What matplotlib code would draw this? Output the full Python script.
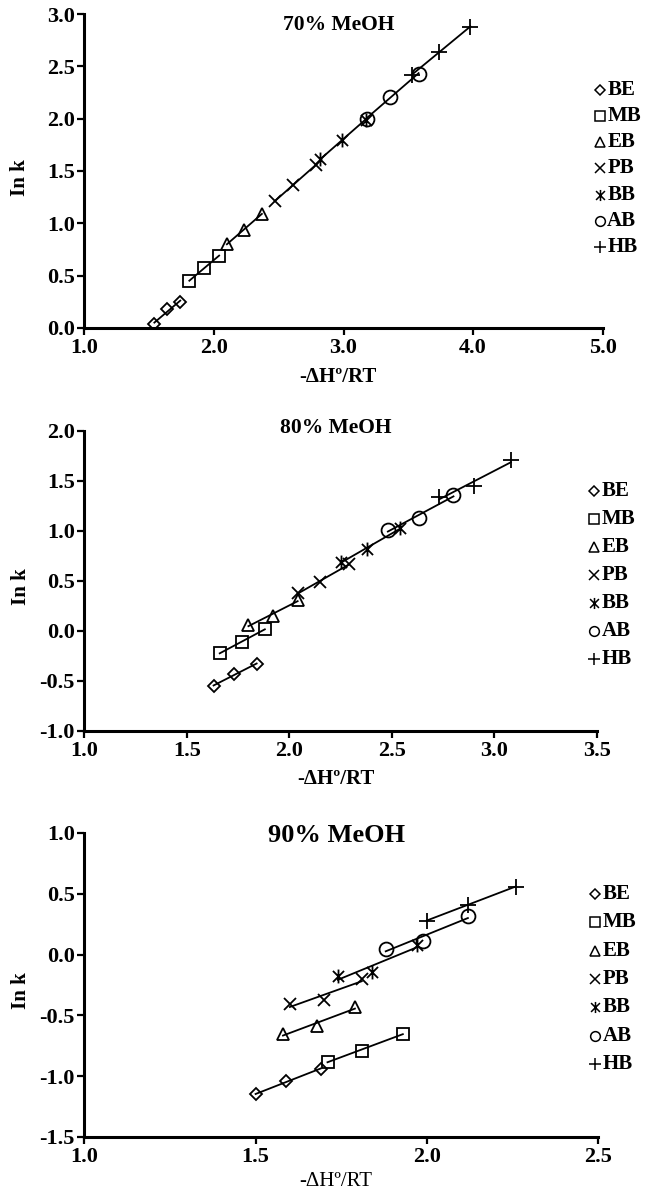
import numpy as np
import matplotlib
matplotlib.use("Agg")
import matplotlib.pyplot as plt
from matplotlib.path import Path

plt.rcParams["font.family"] = ["Liberation Serif", "DejaVu Serif"]
plt.rcParams["font.weight"] = "bold"
plt.rcParams["axes.unicode_minus"] = False

compounds = ["BE", "MB", "EB", "PB", "BB", "AB", "HB"]

# 70% MeOH: -dH/RT and ln k, one list per compound
x_70 = [[1.54, 1.64, 1.74], [1.81, 1.92, 2.04], [2.10, 2.23, 2.37],
        [2.47, 2.61, 2.79], [2.82, 2.99, 3.17], [3.18, 3.36, 3.58],
        [3.53, 3.74, 3.98]]
y_70 = [[0.04, 0.18, 0.25], [0.45, 0.57, 0.69], [0.80, 0.94, 1.09],
        [1.21, 1.37, 1.56], [1.61, 1.80, 1.99], [2.00, 2.21, 2.43],
        [2.42, 2.64, 2.88]]

# 80% MeOH
x_80 = [[1.63, 1.73, 1.84], [1.66, 1.77, 1.88], [1.80, 1.92, 2.04],
        [2.04, 2.15, 2.29], [2.25, 2.38, 2.54], [2.48, 2.63, 2.80],
        [2.73, 2.90, 3.08]]
y_80 = [[-0.55, -0.43, -0.33], [-0.22, -0.11, 0.02], [0.06, 0.15, 0.31],
        [0.38, 0.49, 0.67], [0.69, 0.82, 1.03], [1.01, 1.13, 1.36],
        [1.34, 1.45, 1.71]]

# 90% MeOH
x_90 = [[1.50, 1.59, 1.69], [1.71, 1.81, 1.93], [1.58, 1.68, 1.79],
        [1.60, 1.70, 1.81], [1.74, 1.84, 1.97], [1.88, 1.99, 2.12],
        [2.00, 2.12, 2.26]]
y_90 = [[-1.15, -1.04, -0.94], [-0.88, -0.79, -0.65], [-0.65, -0.59, -0.43],
        [-0.41, -0.37, -0.20], [-0.18, -0.14, 0.08], [0.05, 0.11, 0.32],
        [0.28, 0.41, 0.56]]

asterisk = Path([(0, -1), (0, 1), (-0.8, -0.8), (0.8, 0.8), (-0.8, 0.8), (0.8, -0.8)],
                [Path.MOVETO, Path.LINETO] * 3)
markers = ["D", "s", "^", "x", asterisk, "o", "+"]
sizes = [6, 9, 9, 9, 10, 10, 11]
leg_sizes = [5, 7, 7, 7, 8, 7, 8]


def draw_panel(ax, xs, ys, title, xticks, yticks, title_y, title_size, leg_top, leg_step,
               xlabel_y, xlabel_bold=True):
    for xv, yv, m, ms in zip(xs, ys, markers, sizes):
        xv = np.array(xv)
        yv = np.array(yv)
        # per compound linear trend line
        k, b = np.polyfit(xv, yv, 1)
        ax.plot([xv.min(), xv.max()], [k * xv.min() + b, k * xv.max() + b],
                color="black", lw=1.3, zorder=2)
        ax.plot(xv, yv, linestyle="none", marker=m, ms=ms, mfc="none",
                mec="black", mew=1.3, zorder=3)

    ax.set_xlim(xticks[0], xticks[-1])
    ax.set_ylim(yticks[0], yticks[-1])
    ax.set_xticks(xticks)
    ax.set_yticks(yticks)
    ax.set_xticklabels(["%.1f" % t for t in xticks])
    ax.set_yticklabels(["%.1f" % t for t in yticks])
    ax.tick_params(direction="out", length=5, width=1.6, labelsize=16, pad=2)
    for s in ["top", "right"]:
        ax.spines[s].set_visible(False)
    for s in ["left", "bottom"]:
        ax.spines[s].set_linewidth(2.2)

    ax.text(0.49, title_y, title, transform=ax.transAxes, ha="center", va="center",
            fontsize=title_size, fontweight="bold")
    ax.text(-0.124, 0.48, "In k", transform=ax.transAxes, rotation=90,
            ha="center", va="center", fontsize=15, fontweight="bold")
    ax.text(0.49, xlabel_y, "-\u0394H\u00ba/RT", transform=ax.transAxes,
            ha="center", va="center", fontsize=15,
            fontweight="bold" if xlabel_bold else "normal")

    # legend drawn on the right side
    for i, (name, m) in enumerate(zip(compounds, markers)):
        yy = leg_top - i * leg_step
        ax.plot([0.995], [yy], transform=ax.transAxes, marker=m, ms=leg_sizes[i],
                mfc="none", mec="black", mew=1.1, linestyle="none", clip_on=False)
        ax.text(1.009, yy, name, transform=ax.transAxes, ha="left", va="center",
                fontsize=15, fontweight="bold")


fig = plt.figure(figsize=(6.49, 11.93), dpi=100)
W, H = 649.0, 1193.0

ax1 = fig.add_axes([84.4 / W, 1 - 328 / H, 518.2 / W, 314 / H])
ax2 = fig.add_axes([84.4 / W, 1 - 731 / H, 512.6 / W, 300 / H])
ax3 = fig.add_axes([84.4 / W, 1 - 1137 / H, 513.6 / W, 304 / H])

draw_panel(ax1, x_70, y_70, "70% MeOH", [1.0, 2.0, 3.0, 4.0, 5.0],
           [0.0, 0.5, 1.0, 1.5, 2.0, 2.5, 3.0], 0.965, 15.5, 0.758, 0.0833, -0.156)
draw_panel(ax2, x_80, y_80, "80% MeOH", [1.0, 1.5, 2.0, 2.5, 3.0, 3.5],
           [-1.0, -0.5, 0.0, 0.5, 1.0, 1.5, 2.0], 1.01, 15.5, 0.80, 0.0933, -0.16)
draw_panel(ax3, x_90, y_90, "90% MeOH", [1.0, 1.5, 2.0, 2.5],
           [-1.5, -1.0, -0.5, 0.0, 0.5, 1.0], 0.993, 19, 0.80, 0.0933, -0.148,
           xlabel_bold=False)

fig.savefig("out.png", dpi=100)
